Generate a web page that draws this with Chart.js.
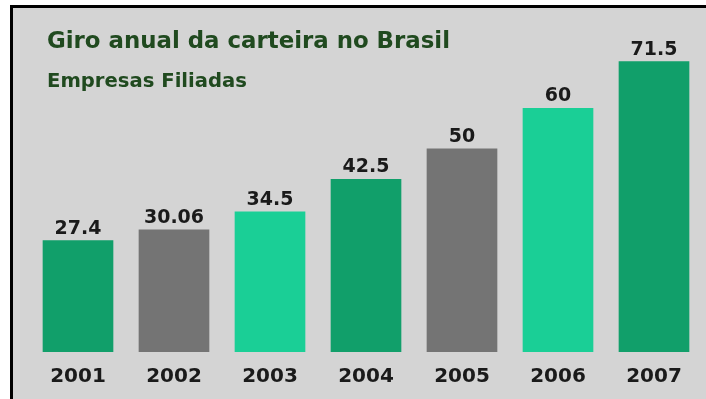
<!DOCTYPE html>
<html>
<head>
<meta charset="utf-8">
<script src="https://cdn.jsdelivr.net/npm/chart.js@4.4.1/dist/chart.umd.min.js"></script>
<style>
  html, body { margin: 0; padding: 0; background: #ffffff; }
  #frame {
    position: absolute; left: 10px; top: 5px;
    width: 693px; height: 391px;
    border-left: 3px solid #000; border-top: 3px solid #000;
    background: #d4d4d4;
  }
  #chart { position: absolute; left: 0; top: 0; }
</style>
</head>
<body>
<div id="frame"></div>
<canvas id="chart" width="706" height="399"></canvas>
<script>
// --- DATA ---
const years = ['2001', '2002', '2003', '2004', '2005', '2006', '2007'];
const giro = [27.4, 30.06, 34.5, 42.5, 50, 60, 71.5];
const valueLabels = ['27.4', '30.06', '34.5', '42.5', '50', '60', '71.5'];
const barColors = ['#119f6a', '#747474', '#1acf96', '#119f6a', '#747474', '#1acf96', '#119f6a'];

const titleText = 'Giro anual da carteira no Brasil';
const subtitleText = 'Empresas Filiadas';

const FONT = "'DejaVu Sans', Verdana, sans-serif";

// title + subtitle drawn on top of the chart, no layout space taken
const headerPlugin = {
    id: 'header',
    afterDraw(chart) {
        const ctx = chart.ctx;
        ctx.save();
        ctx.fillStyle = '#204a1f';
        ctx.textAlign = 'left';
        ctx.textBaseline = 'alphabetic';
        ctx.font = `bold 23px ${FONT}`;
        ctx.fillText(titleText, 47, 48, 403);
        ctx.font = `bold 20px ${FONT}`;
        ctx.fillText(subtitleText, 47, 87, 200);
        ctx.restore();
    }
};

// value labels above each bar
const valuePlugin = {
    id: 'values',
    afterDatasetsDraw(chart) {
        const ctx = chart.ctx;
        const meta = chart.getDatasetMeta(0);
        ctx.save();
        ctx.fillStyle = '#1a1a1a';
        ctx.font = `bold 19px ${FONT}`;
        ctx.textAlign = 'center';
        ctx.textBaseline = 'alphabetic';
        meta.data.forEach((bar, i) => {
            ctx.fillText(valueLabels[i], bar.x, bar.y - 7);
        });
        ctx.restore();
    }
};

const ctx = document.getElementById('chart').getContext('2d');
new Chart(ctx, {
    type: 'bar',
    data: {
        labels: years,
        datasets: [{
            data: giro,
            backgroundColor: barColors,
            borderWidth: 0,
            barThickness: 70
        }]
    },
    options: {
        responsive: false,
        animation: false,
        layout: { padding: { left: 30, right: 4, top: 27, bottom: 7 } },
        plugins: {
            legend: { display: false },
            tooltip: { enabled: false }
        },
        scales: {
            x: {
                grid: { display: false, drawTicks: false },
                border: { display: false },
                afterFit: (scale) => { scale.height = 40; },
                ticks: {
                    color: '#1a1a1a',
                    padding: 13,
                    font: { family: FONT, size: 20, weight: 'bold' }
                }
            },
            y: {
                display: false,
                min: 0,
                max: 80
            }
        }
    },
    plugins: [headerPlugin, valuePlugin]
});
</script>
</body>
</html>
